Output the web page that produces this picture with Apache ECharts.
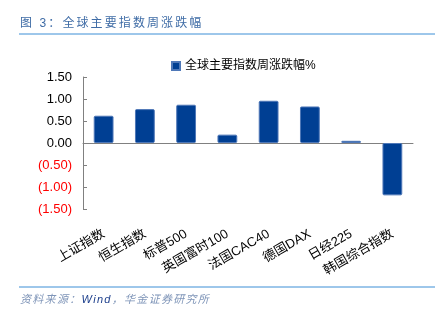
<!DOCTYPE html>
<html><head><meta charset="utf-8">
<script src="https://cdn.jsdelivr.net/npm/echarts@6/dist/echarts.min.js"></script>
<style>html,body{margin:0;padding:0;background:#fff}#c{width:441px;height:323px}</style>
</head><body><div id="c"></div>
<script>
const categories = ['上证指数','恒生指数','标普500','英国富时100','法国CAC40','德国DAX','日经225','韩国综合指数'];
const weeklyChange = [0.62, 0.77, 0.87, 0.19, 0.96, 0.83, 0.05, -1.19];
const seriesName = '全球主要指数周涨跌幅%';
const titleText = '图 3：全球主要指数周涨跌幅';
const sourcePieces = [['资料来源：', '#7f95b8'], ['Wind', '#1d3f8c'], ['，华金证券研究所', '#7f95b8']];
const FONT = '"Liberation Sans", "Noto Sans CJK SC", sans-serif';

const ctx = document.createElement('canvas').getContext('2d');
function spaced(text, x, y, font, fill, spacing) {
  ctx.font = font;
  const out = [];
  for (const ch of text) {
    out.push({type:'text', x:x, y:y, style:{text:ch, font:font, fill:fill, textVerticalAlign:'middle'}});
    x += ctx.measureText(ch).width + spacing;
  }
  return {els: out, x: x};
}
const graphics = [
  {type:'line', shape:{x1:19,y1:34,x2:435,y2:34}, style:{stroke:'#3d8fd6', lineWidth:1}},
  {type:'line', shape:{x1:19,y1:287,x2:435,y2:287}, style:{stroke:'#3d8fd6', lineWidth:1}}
];
const t = spaced(titleText, 20, 24, '12px ' + FONT, '#3f6ca6', 2.1);
graphics.push(...t.els);
let fx = 20;
for (const [txt, col] of sourcePieces) {
  const r = spaced(txt, fx, 300, 'italic 11px ' + FONT, col, 1.3);
  graphics.push(...r.els);
  fx = r.x;
}

const chart = echarts.init(document.getElementById('c'), null, {renderer:'canvas'});
chart.setOption({
  animation: false,
  textStyle: {fontFamily: FONT},
  graphic: graphics,
  legend: {
    data:[seriesName], left:166, top:55, icon:'rect', itemWidth:8, itemHeight:8,
    textStyle:{fontSize:12, color:'#000', fontFamily:FONT}
  },
  grid: {left:83, right:28, top:77, height:132, containLabel:false, outerBoundsMode:'none'},
  xAxis: {
    type:'category', data:categories,
    axisLine:{onZero:true, lineStyle:{color:'#808080'}},
    axisTick:{inside:true, length:3, lineStyle:{color:'#808080'}},
    axisLabel:{rotate:30, margin:24, fontSize:13, color:'#000', interval:0, fontFamily:FONT}
  },
  yAxis: {
    type:'value', min:-1.5, max:1.5, interval:0.5,
    axisLine:{show:true, lineStyle:{color:'#808080'}},
    axisTick:{show:true, inside:true, length:4, lineStyle:{color:'#808080'}},
    splitLine:{show:false},
    axisLabel:{
      margin:11, fontSize:13, fontFamily:FONT,
      formatter:v => v < 0 ? '(' + Math.abs(v).toFixed(2) + ')' : v.toFixed(2),
      color:v => (parseFloat(v) < 0 ? '#ff0000' : '#000')
    }
  },
  series: [{
    name:seriesName, type:'bar', data:weeklyChange, barWidth:'48%',
    itemStyle:{color:'#003f93', borderColor:'#4f78b8', borderWidth:1, borderRadius:1}
  }]
});
</script></body></html>
